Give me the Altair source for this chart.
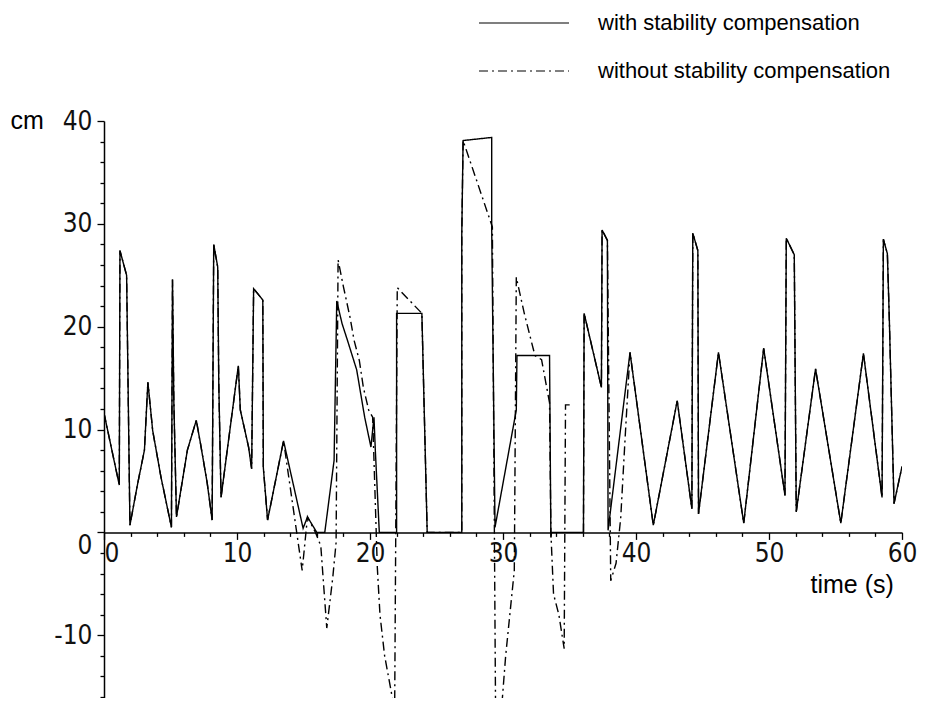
import altair as alt
import pandas as pd

SERIES_WITH = "with stability compensation"
SERIES_WITHOUT = "without stability compensation"

# solid curve: time (s) and value (cm)
with_t = [0.0, 1.15, 1.2, 1.7, 1.95, 2.54, 3.04, 3.3, 3.66, 4.28, 5.07, 5.15, 5.25, 5.45,
          6.27, 6.94, 7.26, 7.76, 8.13, 8.25, 8.55, 8.63, 8.8, 10.1, 10.25, 10.87, 11.1,
          11.25, 11.94, 11.98, 12.3, 13.5, 14.97, 15.3, 16.0, 16.6, 17.3, 17.5, 17.9, 18.3,
          19.0, 19.6, 20.07, 20.3, 20.4, 20.7, 22.0, 22.0, 23.9, 24.3, 26.9, 26.9, 27.0,
          29.15, 29.15, 29.4, 31.0, 31.05, 33.5, 33.6, 33.65, 36.05, 36.1, 37.4, 37.45,
          37.85, 37.9, 39.55, 41.3, 43.1, 44.2, 44.27, 44.65, 44.7, 46.2, 48.1, 49.6, 51.2,
          51.3, 51.9, 52.05, 53.5, 55.4, 57.1, 58.5, 58.6, 58.9, 59.05, 59.4, 60.0]
with_y = [11.6, 4.6, 27.4, 25.0, 0.7, 4.8, 8.0, 14.6, 9.9, 5.4, 0.5, 24.6, 12.8, 1.5,
          8.0, 10.9, 8.6, 4.8, 1.2, 28.0, 25.8, 14.5, 3.4, 16.2, 11.9, 8.3, 6.2,
          23.7, 22.6, 6.3, 1.2, 8.9, 0.4, 1.5, 0.0, 0.0, 7.0, 22.5, 20.3, 18.7,
          15.8, 11.2, 8.3, 11.2, 8.0, 0.0, 0.0, 21.3, 21.3, 0.0, 0.0, 28.9, 38.1,
          38.4, 29.7, 0.5, 11.9, 17.2, 17.2, -0.5, 0.0, 0.0, 21.3, 14.1, 29.4,
          28.4, 0.2, 17.5, 0.7, 12.8, 2.3, 29.1, 27.4, 1.8, 17.5, 0.9, 17.9, 3.6,
          28.6, 27.0, 2.0, 15.9, 0.9, 17.4, 3.4, 28.5, 27.1, 20.6, 2.8, 6.4]

# dashed curve: shares the solid curve up to 13.5 s and from 39.55 s
without_mid_t = [14.9, 15.3, 15.9, 16.3, 16.75, 17.2, 17.45, 17.6, 18.0, 18.5, 18.8, 19.2,
                 19.5, 19.9, 20.2, 20.55, 20.75, 21.1, 21.6, 21.85, 22.05, 23.9, 24.3,
                 26.9, 26.9, 27.0, 29.2, 29.45, 29.9, 30.2, 30.85, 31.0, 31.6, 32.4, 32.9,
                 33.5, 33.6, 33.8, 34.2, 34.6, 34.7, 35.25]
without_mid_y = [-3.7, 1.5, 0.0, -1.3, -9.3, -4.4, -1.0, 26.5, 23.9, 20.9, 18.7, 16.7,
                 14.1, 11.9, 11.2, -3.4, -8.0, -12.0, -15.5, -18.0, 23.8, 21.3, 0.0,
                 0.0, 28.9, 38.1, 29.7, -19.0, -17.0, -12.0, -3.7, 24.8, 21.3, 17.2, 16.8,
                 12.6, 0.0, -6.0, -8.0, -11.3, 12.4, 12.4]
without_late_t = [36.05, 36.1, 37.4, 37.45, 37.85, 38.1, 38.5, 38.85, 39.2]
without_late_y = [0.0, 21.3, 14.1, 29.4, 28.4, -4.7, -3.0, 1.4, 9.6]

rows = []
for i, (t, y) in enumerate(zip(with_t, with_y)):
    rows.append({"series": SERIES_WITH, "seg": "w", "i": i, "t": t, "y": y})

head = [(t, y) for t, y in zip(with_t, with_y) if t <= 13.5]
tail = [(t, y) for t, y in zip(with_t, with_y) if t >= 39.55]
part1 = head + list(zip(without_mid_t, without_mid_y))
part2 = list(zip(without_late_t, without_late_y)) + tail
for i, (t, y) in enumerate(part1):
    rows.append({"series": SERIES_WITHOUT, "seg": "d1", "i": i, "t": t, "y": y})
for i, (t, y) in enumerate(part2):
    rows.append({"series": SERIES_WITHOUT, "seg": "d2", "i": i, "t": t, "y": y})

df = pd.DataFrame(rows)

NUM_FONT = "Liberation Sans Narrow, DejaVu Sans Condensed, Liberation Sans, Arial, sans-serif"
TXT_FONT = "Liberation Sans, Arial, Helvetica, sans-serif"

x_axis = alt.Axis(
    values=list(range(0, 61, 2)),
    labelExpr="datum.value % 10 === 0 ? '' + datum.value : ''",
    tickSize=alt.condition("datum.value % 10 === 0", alt.value(7), alt.value(4)),
    labelAlign=alt.condition("datum.value === 0", alt.value("left"), alt.value("center")),
    offset=-165.6,
    title="time (s)",
    titleX=706, titleY=60, titleAlign="left", titleBaseline="alphabetic",
    titleFont=TXT_FONT, titleFontSize=25, titleFontWeight="normal", titleColor="black",
    labelFont=NUM_FONT, labelFontSize=26, labelColor="#111", labelPadding=1,
    labelOverlap=False, labelFlush=False,
    domainColor="black", domainWidth=1.5, tickColor="black", tickWidth=1.3, grid=False,
)
y_axis = alt.Axis(
    values=list(range(-16, 41, 2)),
    labelExpr="datum.value % 10 === 0 ? '' + datum.value : ''",
    tickSize=alt.condition("datum.value % 10 === 0", alt.value(7), alt.value(4)),
    labelBaseline=alt.condition("datum.value === 0", alt.value("top"), alt.value("middle")),
    title="cm",
    titleAngle=0, titleX=-94, titleY=7, titleAlign="left", titleBaseline="alphabetic",
    titleFont=TXT_FONT, titleFontSize=25, titleFontWeight="normal", titleColor="black",
    labelFont=NUM_FONT, labelFontSize=26, labelColor="#111", labelPadding=5,
    labelOverlap=False, labelFlush=False,
    domainColor="black", domainWidth=1.5, tickColor="black", tickWidth=1.3, grid=False,
)

legend = alt.Legend(
    title=None, orient="none", legendX=364, legendY=-109, direction="vertical",
    symbolType="M0,0H18", symbolSize=100, symbolStrokeWidth=1.2,
    symbolStrokeColor="black", symbolFillColor="transparent",
    labelFont=TXT_FONT, labelFontSize=22, labelColor="black", labelOffset=108,
    labelLimit=500, rowPadding=26,
)

chart = alt.Chart(df).mark_line(color="black", strokeWidth=1.4, clip=True).encode(
    x=alt.X("t:Q", scale=alt.Scale(domain=[0, 60], nice=False, zero=False), axis=x_axis),
    y=alt.Y("y:Q", scale=alt.Scale(domain=[-16.1, 40], nice=False, zero=False), axis=y_axis),
    strokeDash=alt.StrokeDash(
        "series:N",
        scale=alt.Scale(domain=[SERIES_WITH, SERIES_WITHOUT], range=[[1, 0], [9, 4, 2, 4]]),
        legend=legend,
    ),
    detail="seg:N",
    order="i:Q",
).properties(
    width=798, height=577,
    padding={"left": 96, "top": 113, "right": 15, "bottom": 0},
    autosize=alt.AutoSizeParams(type="none"),
    background="white",
).configure_view(stroke=None)

chart.save("out.html", embed_options={"renderer": "svg", "actions": False})
